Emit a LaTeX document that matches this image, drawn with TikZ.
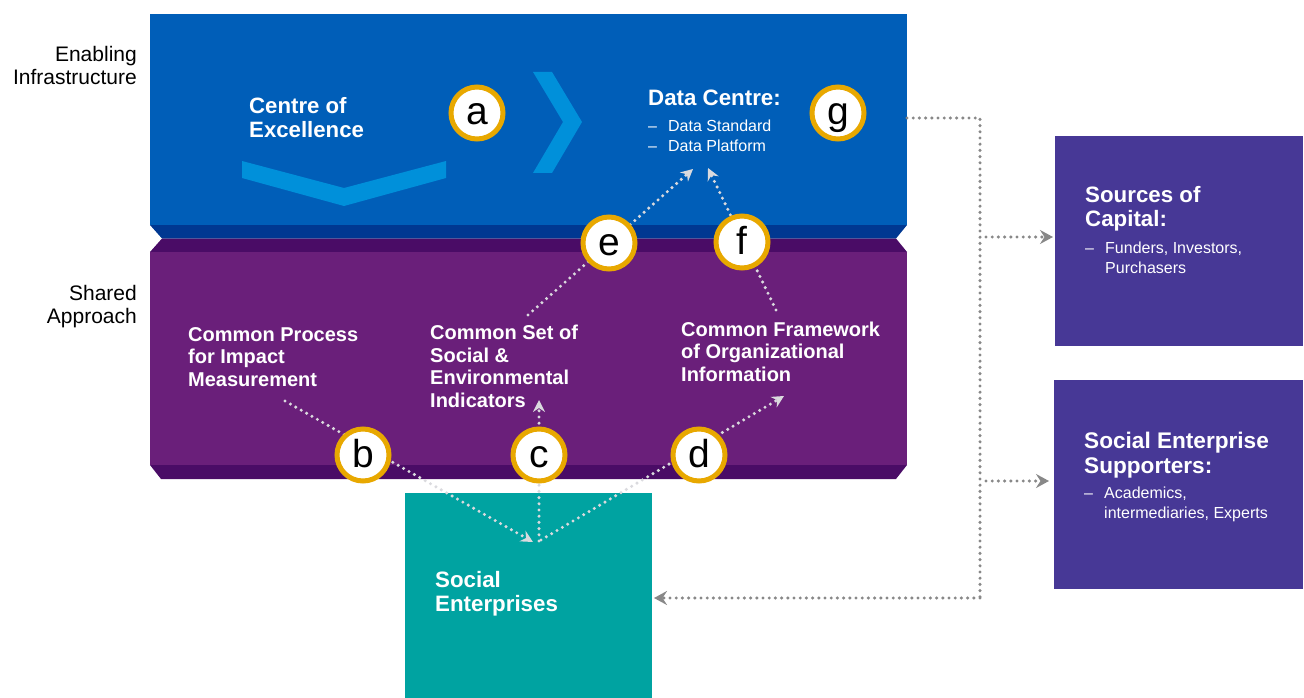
\documentclass[tikz,border=0pt]{standalone}
\usepackage{fontspec}
\setmainfont{Liberation Sans}
\usetikzlibrary{arrows.meta}
\definecolor{cblue}{RGB}{0,94,184}
\definecolor{cdblue}{RGB}{0,56,145}
\definecolor{cpurple}{RGB}{106,31,122}
\definecolor{cdpurple}{RGB}{74,12,102}
\definecolor{clblue}{RGB}{0,144,218}
\definecolor{cteal}{RGB}{0,163,161}
\definecolor{cindigo}{RGB}{71,56,150}
\definecolor{cgold}{RGB}{232,168,0}
\definecolor{cdot}{RGB}{218,218,222}
\definecolor{cgrey}{RGB}{136,136,136}
\begin{document}
\begin{tikzpicture}[x=1pt,y=-1pt,
  lbl/.style={inner sep=0pt, font=\fontsize{21}{23}\selectfont, align=right, anchor=north east, text=black},
  ttl/.style={inner sep=0pt, font=\bfseries\fontsize{22.3}{24.5}\selectfont, align=left, anchor=north west, text=white},
  sub/.style={inner sep=0pt, font=\bfseries\fontsize{20}{22.5}\selectfont, align=left, anchor=north west, text=white},
  lst/.style={inner sep=0pt, font=\fontsize{16}{19.5}\selectfont, align=left, anchor=north west, text=white},
  badge/.style={circle, draw=cgold, line width=5pt, fill=white, minimum size=52pt, inner sep=0pt, text height=24pt, text depth=0pt, font=\fontsize{39}{39}\selectfont, text=black},
  dotw/.style={draw=cdot, line width=3.4pt, line cap=round, dash pattern=on 0pt off 6.2pt, -{Stealth[length=12pt,width=12pt,inset=4pt,fill=cdot]}},
  dotg/.style={draw=cgrey, line width=3.4pt, line cap=round, dash pattern=on 0pt off 6.2pt, -{Stealth[length=13pt,width=14pt,inset=4.5pt,fill=cgrey]}},
  dotgn/.style={draw=cgrey, line width=3.4pt, line cap=round, dash pattern=on 0pt off 6.2pt},
  panel/.style={anchor=north west, inner sep=0pt, outer sep=0pt}
]
\useasboundingbox (0,0) rectangle (1304,698);
% bands
\fill[cblue] (150,14) rectangle (907,225);
\fill[cdblue] (150,225) -- (907,225) -- (896,238.5) -- (162,238.5) -- cycle;
\fill[cdpurple] (162,238.5) -- (896,238.5) -- (907,252) -- (150,252) -- cycle;
\fill[cpurple] (150,252) rectangle (907,465);
\fill[cdpurple] (150,465) -- (907,465) -- (896,479) -- (161,479) -- cycle;
% chevrons
\fill[clblue] (242,161) -- (344,188) -- (446,161) -- (446,178) -- (344,206) -- (242,178) -- cycle;
\fill[clblue] (533,72) -- (552,72) -- (582,122) -- (552,173) -- (533,173) -- (563,122) -- cycle;
% boxes
\node[panel, fill=cteal, minimum width=247pt, minimum height=205pt] (se) at (405,493) {};
\node[panel, fill=cindigo, minimum width=248pt, minimum height=210pt] (soc) at (1055,136) {};
\node[panel, fill=cindigo, minimum width=249pt, minimum height=209pt] (sup) at (1054,380) {};
% texts
\node[lbl] (enab) at (137,46) {Enabling\\Infrastructure};
\node[lbl] (shar) at (137,285) {Shared\\Approach};
\node[ttl, font=\bfseries\fontsize{22.2}{24}\selectfont] (coe) at (249,97) {Centre of\\Excellence};
\node[ttl] (dc) at (648,90) {Data Centre:};
\node[lst] (dcl) at (648,120) {\makebox[20pt][l]{–}Data Standard\\\makebox[20pt][l]{–}Data Platform};
\node[sub] (tcp) at (188,327) {Common Process\\for Impact\\Measurement};
\node[sub] (tcs) at (430,325) {Common Set of\\Social \&\\Environmental\\Indicators};
\node[sub] (tcf) at (681,321.5) {Common Framework\\of Organizational\\Information};
\node[ttl] (tse) at (435,571) {Social\\Enterprises};
\node[ttl] (tsoc) at (1085,186) {Sources of\\Capital:};
\node[lst] (lsoc) at (1085,242) {\makebox[20pt][l]{–}Funders, Investors,\\\makebox[20pt][l]{}Purchasers};
\node[ttl, font=\bfseries\fontsize{22.6}{24.5}\selectfont] (tsup) at (1084,432) {Social Enterprise\\Supporters:};
\node[lst] (lsup) at (1084,487) {\makebox[20pt][l]{–}Academics,\\\makebox[20pt][l]{}intermediaries, Experts};
% right connector
\coordinate (gout) at (907,118);
\coordinate (jt) at (980,118);
\coordinate (jb) at (980,598);
\coordinate (j1) at (986,237);
\coordinate (j2) at (986,481);
\draw[dotgn] (gout) -- (jt) -- (jb);
\draw[dotg] (jb) -- ([xshift=2pt]se.east |- jb);
\draw[dotg] (j1) -- ([xshift=-2pt]soc.west |- j1);
\draw[dotg] (j2) -- ([xshift=-5pt]sup.west |- j2);
% inner connectors
\coordinate (bs) at (285,401); \coordinate (bt) at (533,542);
\coordinate (cs) at (539,541); \coordinate (ct) at (539,400);
\coordinate (ds) at (541,540); \coordinate (dt) at (784,396);
\coordinate (es) at (528,315); \coordinate (et) at (693,169);
\coordinate (fs) at (776,310); \coordinate (ft) at (708,168);
\draw[dotw] (bs) -- (bt);
\draw[dotw] (cs) -- (ct);
\draw[dotw] (ds) -- (dt);
\draw[dotw] (es) -- (et);
\draw[dotw] (fs) -- (ft);
% badges
\node[badge] (a) at (477,113) {a};
\node[badge] (g) at (838,113) {g};
\node[badge] (e) at (609,243) {e};
\node[badge] (f) at (742,242) {f};
\node[badge] (b) at (363,455) {b};
\node[badge] (c) at (539,455) {c};
\node[badge] (d) at (699,455) {d};
\end{tikzpicture}
\end{document}
